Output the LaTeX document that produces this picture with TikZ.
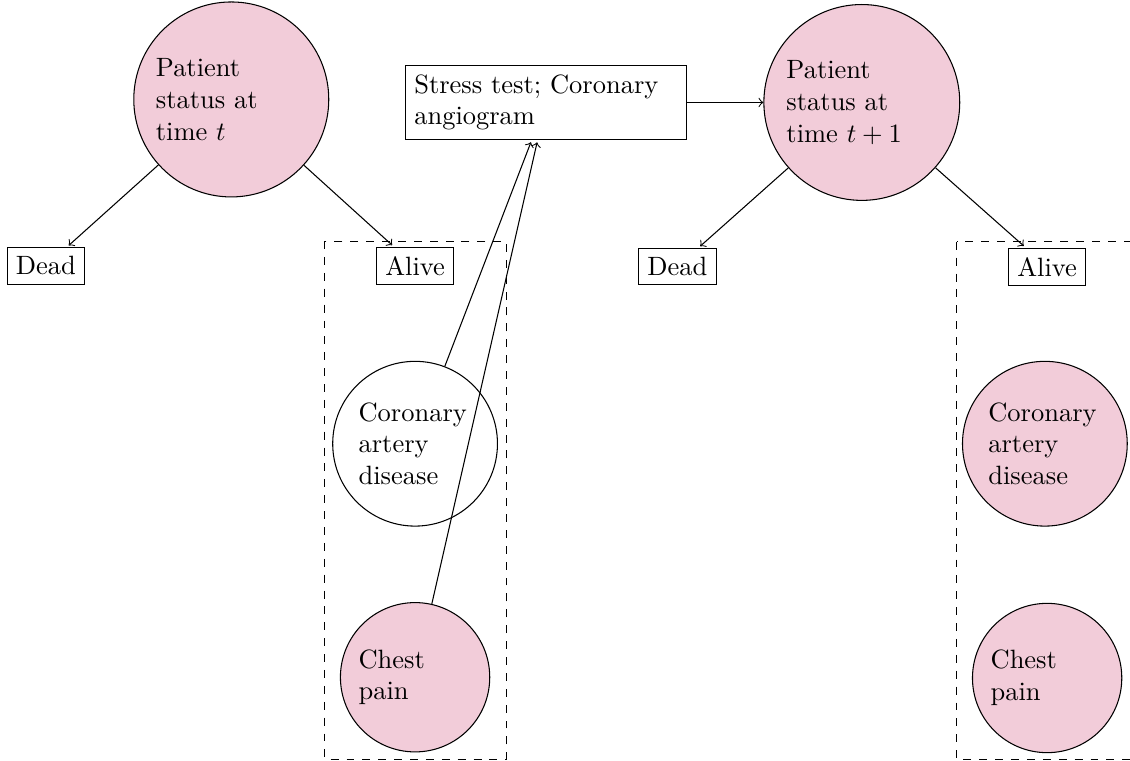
\documentclass[tikz,border=0pt]{standalone}
\usepackage{amsmath}
\usepackage{tikz}
\tikzset{%
	state/.style = {circle,draw,fill=purple!20,align=flush left,text width=2cm,minimum size=2.55cm},
	cond/.style = {circle,draw,align=flush left,text width=1.5cm},
	outcome/.style = {rectangle,draw}%
}

\begin{document}
\begin{tikzpicture}
		\useasboundingbox (0,-10.1) rectangle (15,0);
		
		\node(s0)[state] at (3.07,-1.32){Patient status at time $t$};
		\node(test)[outcome,align=flush left,text width=3.5cm] at (7.25,-1.36){Stress test; Coronary angiogram};
		\node(s1)[state] at (11.44,-1.36){Patient status at time $t+1$};
		
		\node(dead0)[outcome] at (0.61,-3.53){Dead};
		\node(alive0)[outcome] at (5.51,-3.53){Alive};
		\node(cad0)[cond] at (5.51,-5.89){Coronary artery disease};
		\node(pain0)[cond,fill=purple!20] at (5.51,-8.99){Chest pain};
		
		\node(dead1)[outcome] at (8.99,-3.54){Dead};
		\node(alive1)[outcome] at (13.90,-3.54){Alive};
		\node(cad1)[cond,fill=purple!20] at (13.87,-5.89){Coronary artery disease};
		\node(pain1)[cond,fill=purple!20] at (13.90,-9.00){Chest pain};
		
		\draw[dashed](4.31,-3.20) rectangle (6.72,-10.08);
		\draw[dashed](12.70,-3.21) rectangle (15.11,-10.08);
		
		\draw[->,shorten >=1pt](s0)--(dead0);
		\draw[->,shorten >=1pt](s0)--(alive0);
		\draw[->,shorten >=1pt](s1)--(dead1);
		\draw[->,shorten >=1pt](s1)--(alive1);
		\draw[->,shorten >=1pt](cad0)--(test);
		\draw[->,shorten >=1pt](pain0)--(test);
		\draw[->](test)--(s1);
\end{tikzpicture}
\end{document}
